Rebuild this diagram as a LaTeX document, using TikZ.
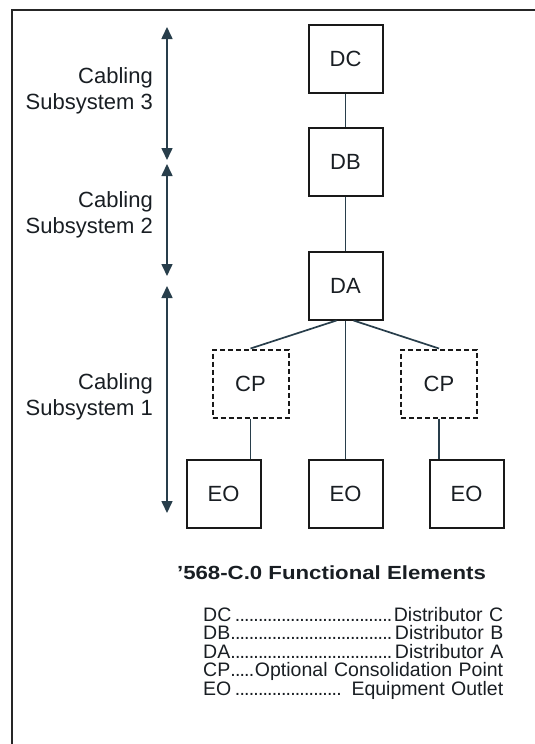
\documentclass[tikz,border=0pt]{standalone}
\usepackage{fontspec}
\setmainfont{Liberation Sans}
\usepackage{graphicx}
\usetikzlibrary{arrows.meta, positioning}
\definecolor{cLine}{RGB}{40,62,75}
\definecolor{cText}{RGB}{25,30,35}
\newcommand{\legdots}{\leaders\hbox to 4.6pt{\hss.\hss}\hfill}
\tikzset{
	elem/.style     ={rectangle, draw=black!90, line width=2pt, minimum width=74pt, minimum height=68pt, inner sep=0pt, font=\fontsize{22}{26}\selectfont, text=cText},
	optelem/.style  ={elem, minimum width=76pt, dash pattern=on 5pt off 3pt},
	link/.style     ={draw=cLine, line width=1.7pt},
	spanarrow/.style={{Triangle[length=12pt,width=11pt]}-{Triangle[length=12pt,width=11pt]}, draw=cLine, line width=1.6pt},
	sublabel/.style ={anchor=east, align=right, font=\fontsize{22}{26}\selectfont, text=cText, inner sep=0pt},
}
\begin{document}
\begin{tikzpicture}[x=1pt, y=-1pt]
	\useasboundingbox (0,0) rectangle (535,744);
	\draw[line width=2.2pt, draw=black!85] (12,744) -- (12,10) -- (535,10);
	% distributors
	\node[elem] (DC) at (345.5,58.5) {DC};
	\node[elem, below=33pt of DC] (DB) {DB};
	\node[elem, below=54pt of DB] (DA) {DA};
	% outlets and consolidation points
	\node[elem, below=138pt of DA] (EOm) {EO};
	\node[elem, left=46pt of EOm] (EOl) {EO};
	\node[elem, right=45pt of EOm] (EOr) {EO};
	\node[optelem] (CPl) at (250.5,383.5) {CP};
	\node[optelem] (CPr) at (439,383.5) {CP};
	\draw[link] (DC) -- (DB); \draw[link] (DB) -- (DA); \draw[link] (DA) -- (EOm);
	\draw[link] ([xshift=-9pt]DA.south) -- (CPl.north); \draw[link] ([xshift=8pt]DA.south) -- (CPr.north);
	\draw[link] (CPl.south) -- (CPl.south |- EOl.north); \draw[link] (CPr.south) -- (CPr.south |- EOr.north);
	% subsystem spans
	\coordinate (s3top) at (167,27);  \coordinate (s3bot) at (167,160);
	\coordinate (s2top) at (167,164); \coordinate (s2bot) at (167,276);
	\coordinate (s1top) at (167,286); \coordinate (s1bot) at (167,513);
	\draw[spanarrow] (s3top) -- (s3bot); \draw[spanarrow] (s2top) -- (s2bot); \draw[spanarrow] (s1top) -- (s1bot);
	\node[sublabel] (lab3) at (153,91) {Cabling\\Subsystem 3};
	\node[sublabel] (lab2) at (153,215) {Cabling\\Subsystem 2};
	\node[sublabel] (lab1) at (153,397) {Cabling\\Subsystem 1};
	% caption and legend
	\node[font=\bfseries\fontsize{19}{22}\selectfont, text=cText, inner sep=0pt] (title) at (331.5,573) {\scalebox{1.17}[1]{'568-C.0 Functional Elements}};
	\node[anchor=north west, text width=300pt, align=left, inner sep=0pt, font=\fontsize{19.5}{18.5}\selectfont, text=cText] (legend) at (203,607)
		{DC\legdots Distributor C\\DB\legdots Distributor B\\DA\legdots Distributor A\\CP\legdots Optional Consolidation Point\\EO\legdots\ Equipment Outlet};
\end{tikzpicture}
\end{document}
